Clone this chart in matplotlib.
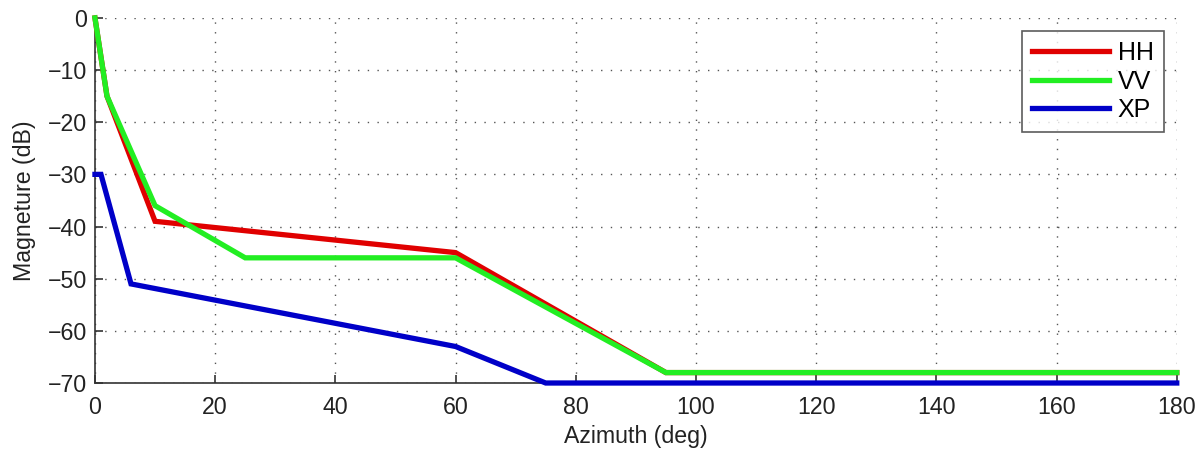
import matplotlib
matplotlib.use("Agg")
import matplotlib.pyplot as plt

hh_x = [0, 2, 10, 60, 95, 180]
hh_y = [0, -15, -39, -45, -68, -68]
vv_x = [0, 2, 10, 25, 60, 95, 180]
vv_y = [0, -15, -36, -46, -46, -68, -68]
xp_x = [0, 1, 6, 60, 75, 180]
xp_y = [-30, -30, -51, -63, -70, -70]

xticks = list(range(0, 181, 20))
yticks = list(range(-70, 1, 10))

plt.rcParams['font.family'] = ['Liberation Sans', 'DejaVu Sans']
fig = plt.figure(figsize=(12.02, 4.53), dpi=100)
ax = fig.add_axes([0.079, 0.1545, 0.9, 0.806])

ax.plot(hh_x, hh_y, color='#e00000', lw=3.8, label='HH', clip_on=False, solid_joinstyle='miter', zorder=3)
ax.plot(vv_x, vv_y, color='#22ee22', lw=3.8, label='VV', clip_on=False, solid_joinstyle='miter', zorder=4)
ax.plot(xp_x, xp_y, color='#0000c8', lw=3.8, label='XP', clip_on=False, solid_joinstyle='miter', zorder=5)

ax.set_xlim(0, 180)
ax.set_ylim(-70, 0)
ax.set_xticks(xticks)
ax.set_yticks(yticks)
ax.grid(True, color='#555555', linestyle=(0, (1, 6)), linewidth=1.0)
for s in ['top', 'right']:
    ax.spines[s].set_visible(False)
for s in ['bottom', 'left']:
    ax.spines[s].set_color('#333333')
    ax.spines[s].set_linewidth(1.2)
ax.tick_params(direction='in', length=6, width=1.2, color='#333333', labelsize=16.7, labelcolor='#222222')
ax.tick_params(axis='x', pad=9)
ax.tick_params(axis='y', pad=6)
ax.set_xlabel('Azimuth (deg)', fontsize=16.7, color='#222222', labelpad=5)
ax.set_ylabel('Magneture (dB)', fontsize=16.7, color='#222222', labelpad=8)

leg = ax.legend(loc='upper right', bbox_to_anchor=(0.988, 0.964), fontsize=18, frameon=True,
                fancybox=False, edgecolor='#333333', handlelength=3.1, handletextpad=0.35,
                borderpad=0.4, labelspacing=0.18, borderaxespad=0)
leg.get_frame().set_linewidth(1.2)
leg.set_zorder(10)

fig.savefig('out.png', dpi=100)
